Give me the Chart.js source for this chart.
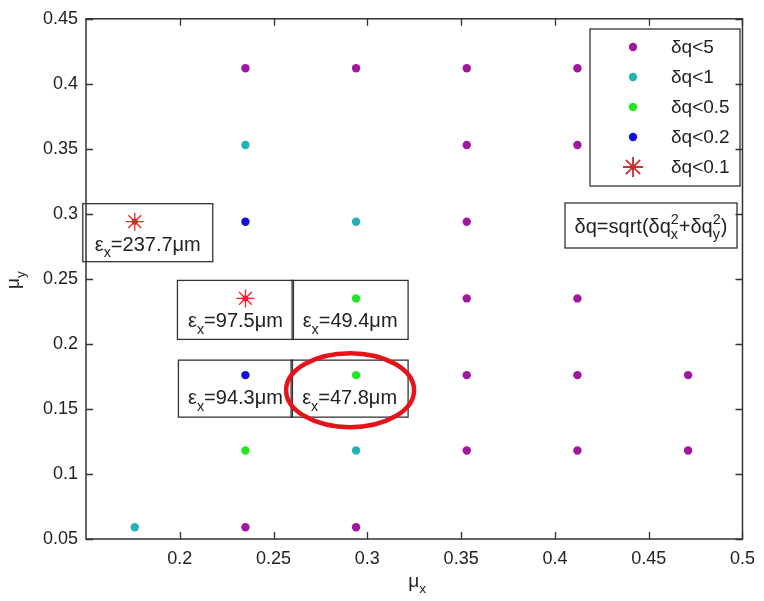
<!DOCTYPE html>
<html>
<head>
<meta charset="utf-8">
<script src="https://cdn.jsdelivr.net/npm/chart.js@4.4.1/dist/chart.umd.min.js"></script>
<style>
  html, body { margin: 0; padding: 0; background: #fff; }
  #wrap { width: 764px; height: 601px; }
</style>
</head>
<body>
<div id="wrap"><canvas id="scan" width="764" height="601"></canvas></div>
<script>
// tune scan: working points coloured by tune spread dq
const xTicks = [0.2, 0.25, 0.3, 0.35, 0.4, 0.45, 0.5];
const xTickLabels = ['0.2', '0.25', '0.3', '0.35', '0.4', '0.45', '0.5'];
const yTicks = [0.05, 0.1, 0.15, 0.2, 0.25, 0.3, 0.35, 0.4, 0.45];
const yTickLabels = ['0.05', '0.1', '0.15', '0.2', '0.25', '0.3', '0.35', '0.4', '0.45'];

const dq5X = [0.235, 0.294, 0.353, 0.412, 0.353, 0.412, 0.353, 0.353, 0.412, 0.353, 0.412, 0.471, 0.353, 0.412, 0.471, 0.235, 0.294];
const dq5Y = [0.412, 0.412, 0.412, 0.412, 0.353, 0.353, 0.294, 0.235, 0.235, 0.176, 0.176, 0.176, 0.118, 0.118, 0.118, 0.059, 0.059];
const dq1X = [0.235, 0.294, 0.294, 0.176];
const dq1Y = [0.353, 0.294, 0.118, 0.059];
const dq05X = [0.294, 0.294, 0.235];
const dq05Y = [0.235, 0.176, 0.118];
const dq02X = [0.235, 0.235];
const dq02Y = [0.294, 0.176];
const dq01X = [0.176, 0.235];
const dq01Y = [0.294, 0.235];

const seriesLabels = ['δq<5', 'δq<1', 'δq<0.5', 'δq<0.2', 'δq<0.1'];

// emittance notes next to selected points
const noteX = [0.176, 0.235, 0.294, 0.235, 0.294];
const noteY = [0.294, 0.235, 0.235, 0.176, 0.176];
const noteEmit = ['237.7', '97.5', '49.4', '94.3', '47.8'];

const pts = (xs, ys) => xs.map((x, i) => ({ x: x, y: ys[i] }));

const FONT = '"Liberation Sans", Arial, sans-serif';
const INK = '#222';

// box edges (pixels, relative to the marked point) for each note
const noteBoxes = [
  { l: -52, r: 78, t: -18, b: 40 },
  { l: -68, r: 48, t: -18, b: 41 },
  { l: -64, r: 52, t: -18, b: 41 },
  { l: -67, r: 47, t: -15, b: 42 },
  { l: -65, r: 52, t: -15, b: 42 }
];

function richWidth(ctx, segs, size) {
  let w = 0;
  segs.forEach(s => {
    if (s.sup || s.sub) {
      ctx.font = (size * 0.72) + 'px ' + FONT;
      w += Math.max(ctx.measureText(s.sup || '').width, ctx.measureText(s.sub || '').width);
    } else {
      ctx.font = size + 'px ' + FONT;
      w += ctx.measureText(s.t).width;
    }
  });
  return w;
}

function drawRich(ctx, segs, cx, y, size) {
  let x = cx - richWidth(ctx, segs, size) / 2;
  ctx.textAlign = 'left';
  ctx.textBaseline = 'alphabetic';
  segs.forEach(s => {
    if (s.sup || s.sub) {
      ctx.font = (size * 0.72) + 'px ' + FONT;
      let w = 0;
      if (s.sup) { ctx.fillText(s.sup, x, y - size * 0.45); w = ctx.measureText(s.sup).width; }
      if (s.sub) { ctx.fillText(s.sub, x, y + size * 0.32); w = Math.max(w, ctx.measureText(s.sub).width); }
      x += w;
    } else {
      ctx.font = size + 'px ' + FONT;
      ctx.fillText(s.t, x, y);
      x += ctx.measureText(s.t).width;
    }
  });
}

const decorations = {
  id: 'decorations',
  afterDatasetsDraw(chart) {
    const ctx = chart.ctx;
    const a = chart.chartArea;
    const xs = chart.scales.x, ys = chart.scales.y;
    ctx.save();
    ctx.fillStyle = INK;
    ctx.strokeStyle = '#333';

    // emittance notes
    ctx.lineWidth = 1.3;
    noteX.forEach((v, i) => {
      const px = xs.getPixelForValue(v), py = ys.getPixelForValue(noteY[i]);
      const b = noteBoxes[i];
      ctx.strokeRect(px + b.l, py + b.t, b.r - b.l, b.b - b.t);
      drawRich(ctx, [{ t: 'ε' }, { sub: 'x' }, { t: '=' + noteEmit[i] + 'μm' }],
        px + (b.l + b.r) / 2, py + 29, 20);
    });

    // highlight around the smallest-emittance point
    const hx = xs.getPixelForValue(noteX[4]), hy = ys.getPixelForValue(noteY[4]);
    ctx.strokeStyle = '#e5141b';
    ctx.lineWidth = 4.5;
    ctx.beginPath();
    ctx.ellipse(hx - 6, hy + 15, 64, 37, 0, 0, Math.PI * 2);
    ctx.stroke();

    // formula box
    ctx.strokeStyle = '#333';
    ctx.lineWidth = 1.3;
    ctx.fillStyle = '#fff';
    ctx.fillRect(565, 203, 172, 45);
    ctx.strokeRect(565, 203, 172, 45);
    ctx.fillStyle = INK;
    drawRich(ctx, [{ t: 'δq=sqrt(δq' }, { sup: '2', sub: 'x' }, { t: '+δq' }, { sup: '2', sub: 'y' }, { t: ')' }],
      651, 233, 20);

    // legend
    const lx = 590, ly = 29, lw = 150, lh = 157;
    ctx.fillStyle = '#fff';
    ctx.fillRect(lx, ly, lw, lh);
    ctx.strokeRect(lx, ly, lw, lh);
    const order = [0, 1, 2, 3, 5];
    order.forEach((di, k) => {
      const ds = chart.data.datasets[di];
      const my = ly + 18 + k * 30;
      const mx = lx + 43;
      if (ds.pointStyle === 'star') {
        ctx.fillStyle = '#b0102a';
        ctx.beginPath(); ctx.arc(mx, my, 2.5, 0, Math.PI * 2); ctx.fill();
        Chart.helpers.drawPoint(ctx, { pointStyle: 'star', radius: 10, borderWidth: 1.3 }, mx, my);
        ctx.strokeStyle = ds.borderColor;
        ctx.lineWidth = 1.3;
        ctx.stroke();
      } else {
        ctx.fillStyle = ds.backgroundColor;
        ctx.beginPath(); ctx.arc(mx, my, 4.2, 0, Math.PI * 2); ctx.fill();
      }
      ctx.fillStyle = INK;
      ctx.font = '19px ' + FONT;
      ctx.textAlign = 'left';
      ctx.textBaseline = 'middle';
      ctx.fillText(ds.label, lx + 81, my + 1);
    });

    // axes box with inward ticks on all four sides
    ctx.strokeStyle = '#333';
    ctx.lineWidth = 1.5;
    ctx.strokeRect(a.left, a.top, a.right - a.left, a.bottom - a.top);
    ctx.lineWidth = 1.3;
    ctx.beginPath();
    xTicks.forEach(v => {
      const p = Math.round(xs.getPixelForValue(v)) + 0.5;
      ctx.moveTo(p, a.bottom); ctx.lineTo(p, a.bottom - 7);
      ctx.moveTo(p, a.top); ctx.lineTo(p, a.top + 7);
    });
    yTicks.forEach(v => {
      const p = Math.round(ys.getPixelForValue(v)) + 0.5;
      ctx.moveTo(a.left, p); ctx.lineTo(a.left + 7, p);
      ctx.moveTo(a.right, p); ctx.lineTo(a.right - 7, p);
    });
    ctx.stroke();

    // axis titles
    ctx.fillStyle = INK;
    drawRich(ctx, [{ t: 'μ' }, { sub: 'x' }], (a.left + a.right) / 2 + 3, 587, 19);
    ctx.translate(19, 280);
    ctx.rotate(-Math.PI / 2);
    drawRich(ctx, [{ t: 'μ' }, { sub: 'y' }], 0, 0, 19);
    ctx.restore();
  }
};

const dot = (label, xs, ys, color) => ({
  label: label,
  data: pts(xs, ys),
  backgroundColor: color,
  borderColor: color,
  pointRadius: 4.2,
  pointBorderWidth: 0,
  pointStyle: 'circle'
});

new Chart(document.getElementById('scan').getContext('2d'), {
  type: 'scatter',
  data: {
    datasets: [
      dot(seriesLabels[0], dq5X, dq5Y, '#a3169f'),
      dot(seriesLabels[1], dq1X, dq1Y, '#22b3b3'),
      dot(seriesLabels[2], dq05X, dq05Y, '#22e622'),
      dot(seriesLabels[3], dq02X, dq02Y, '#1010d8'),
      {
        label: 'core',
        data: pts(dq01X, dq01Y),
        backgroundColor: '#b0102a',
        pointRadius: 3,
        pointBorderWidth: 0,
        order: 2
      },
      {
        label: seriesLabels[4],
        data: pts(dq01X, dq01Y),
        pointStyle: 'star',
        borderColor: '#e8262a',
        backgroundColor: '#e8262a',
        pointRadius: 9,
        pointBorderWidth: 1.3,
        order: 1
      }
    ]
  },
  options: {
    responsive: false,
    animation: false,
    layout: { autoPadding: false, padding: { left: 0, top: 18, right: 15, bottom: 0 } },
    plugins: { legend: { display: false }, tooltip: { enabled: false } },
    scales: {
      x: {
        type: 'linear',
        min: 0.15,
        max: 0.5,
        grid: { display: false, drawTicks: false },
        border: { display: false },
        afterBuildTicks: s => { s.ticks = xTicks.map(v => ({ value: v })); },
        afterFit: s => { s.height = 62; },
        ticks: {
          padding: 9,
          color: INK,
          font: { family: FONT, size: 18 },
          maxRotation: 0,
          autoSkip: false,
          callback: (v, i) => xTickLabels[i]
        }
      },
      y: {
        type: 'linear',
        min: 0.05,
        max: 0.45,
        grid: { display: false, drawTicks: false },
        border: { display: false },
        afterBuildTicks: s => { s.ticks = yTicks.map(v => ({ value: v })); },
        afterFit: s => { s.width = 86; },
        ticks: {
          padding: 8,
          color: INK,
          font: { family: FONT, size: 18 },
          autoSkip: false,
          callback: (v, i) => yTickLabels[i]
        }
      }
    }
  },
  plugins: [decorations]
});
</script>
</body>
</html>
